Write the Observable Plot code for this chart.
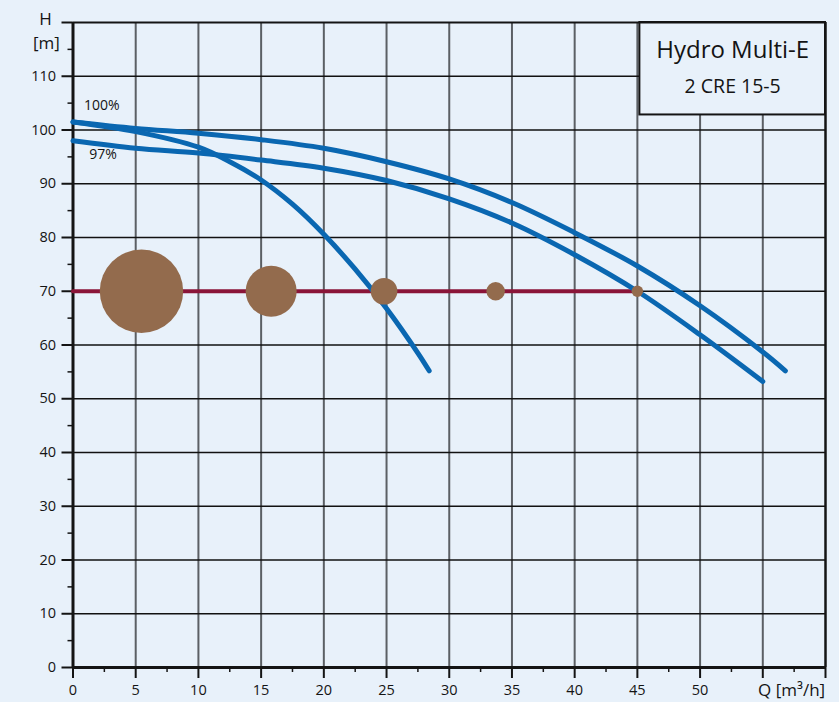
<!DOCTYPE html>
<html><head><meta charset="utf-8">
<script src="https://cdn.jsdelivr.net/npm/d3@7"></script>
<script src="https://cdn.jsdelivr.net/npm/@observablehq/plot@0.6"></script>
<style>
html,body{margin:0;padding:0;background:#e8f1fa;}
#chart svg{display:block;}
</style></head><body><div id="chart"></div>
<script>
// ---- data ----
const curve100Q = [0, 5, 10, 15, 20, 25, 30, 35, 40, 45, 50, 55, 56.8];
const curve100H = [101.5, 100.3, 99.4, 98.2, 96.6, 94.1, 90.9, 86.5, 80.9, 74.7, 67.3, 58.7, 55.2];
const curve97Q = [0, 5, 10, 15, 20, 25, 30, 35, 40, 45, 50, 55];
const curve97H = [98.0, 96.6, 95.7, 94.4, 92.9, 90.6, 87.2, 82.7, 76.8, 70.0, 61.9, 53.2];
const steepQ = [0, 5, 10, 12.5, 15, 17.5, 20, 22.5, 25, 27.5, 28.4];
const steepH = [101.5, 99.7, 96.8, 94.1, 90.7, 86.2, 80.6, 74.1, 66.8, 58.5, 55.2];
const opLineQ = [0, 45];
const opLineH = [70, 70];
const dotQ = [5.46, 15.8, 24.8, 33.7, 45.0];
const dotH = [70, 70, 70, 70, 70];
const dotSize = [100, 37.4, 10.2, 4.9, 1.9];
const curveLabels = ["100%", "97%"];
const curveLabelQ = [2.3, 2.4];
const curveLabelH = [104.5, 95.4];
const titleLines = ["Hydro Multi-E", "2 CRE 15-5"];
const xMajor = [0, 5, 10, 15, 20, 25, 30, 35, 40, 45, 50, 55, 60];
const xMinor = [2.5, 7.5, 12.5, 17.5, 22.5, 27.5, 32.5, 37.5, 42.5, 47.5, 52.5, 57.5];
const xLabels = [0, 5, 10, 15, 20, 25, 30, 35, 40, 45, 50];
const yMajor = [0, 10, 20, 30, 40, 50, 60, 70, 80, 90, 100, 110, 120];
const yMinor = [5, 15, 25, 35, 45, 55, 65, 75, 85, 95, 105, 115];
const yLabels = [0, 10, 20, 30, 40, 50, 60, 70, 80, 90, 100, 110];
const xTitle = "Q [m³/h]";
const yTitle = ["H", "[m]"];

const bg = "#e8f1fa";
const blue = "#0a67b1";
const ink = "#141414";
const font = "'Open Sans', 'Noto Sans', sans-serif";

const pts = (qs, hs) => qs.map((q, i) => ({q, h: hs[i]}));
const c100 = pts(curve100Q, curve100H);
const c97 = pts(curve97Q, curve97H);
const cSteep = pts(steepQ, steepH);
const opLine = pts(opLineQ, opLineH);
const dots = dotQ.map((q, i) => ({q, h: dotH[i], s: dotSize[i]}));
const labels = curveLabels.map((t, i) => ({t, q: curveLabelQ[i], h: curveLabelH[i]}));

const plot = Plot.plot({
  width: 839, height: 702,
  marginLeft: 72.5, marginRight: 14, marginTop: 22, marginBottom: 35,
  x: {domain: [0, 60], axis: null},
  y: {domain: [0, 120], axis: null},
  r: {domain: [0, 100], range: [0, 41.7]},
  style: {background: bg, fontFamily: font, color: ink},
  marks: [
    Plot.ruleX(xMajor.filter(d => d > 0 && d < 60), {stroke: "#5b5f64", strokeWidth: 2}),
    Plot.ruleY(yMajor.filter(d => d > 0 && d < 120), {stroke: "#111", strokeWidth: 1.3}),
    // title box
    Plot.rect([0], {x1: 45.2, x2: 60, y1: 102.8, y2: 120, fill: bg, stroke: ink, strokeWidth: 2}),
    Plot.text([titleLines[0]], {x: 52.6, y: 114.9, text: d => d, fontSize: 24, fill: ink}),
    Plot.text([titleLines[1]], {x: 52.6, y: 108.0, text: d => d, fontSize: 19.5, fill: ink}),
    // frame
    Plot.ruleY([120], {stroke: ink, strokeWidth: 2}),
    Plot.ruleX([60], {stroke: ink, strokeWidth: 2.5}),
    Plot.ruleX([0], {stroke: ink, strokeWidth: 3}),
    Plot.ruleY([0], {stroke: ink, strokeWidth: 3}),
    // ticks
    Plot.axisY(yMajor, {anchor: "left", tickSize: 11, tickFormat: () => "", label: null, stroke: ink, strokeWidth: 2}),
    Plot.axisY(yMinor, {anchor: "left", tickSize: 5, tickFormat: () => "", label: null, stroke: ink, strokeWidth: 1.5}),
    Plot.axisX(xMajor, {anchor: "bottom", tickSize: 11, tickFormat: () => "", label: null, stroke: ink, strokeWidth: 2}),
    Plot.axisX(xMinor, {anchor: "bottom", tickSize: 5, tickFormat: () => "", label: null, stroke: ink, strokeWidth: 1.5}),
    // tick labels
    Plot.text(yLabels, {x: 0, y: d => d, text: d => String(d), dx: -17, textAnchor: "end", fontSize: 14.5, fill: ink}),
    Plot.text(xLabels, {x: d => d, y: 0, text: d => String(d), dy: 23, fontSize: 14.5, fill: ink}),
    Plot.text([yTitle[0]], {x: 0, y: 120, text: d => d, dx: -27.5, dy: -3, fontSize: 17, fill: ink}),
    Plot.text([yTitle[1]], {x: 0, y: 116.1, text: d => d, dx: -26.5, fontSize: 17, fill: ink}),
    Plot.text([xTitle], {x: 57.3, y: 0, text: d => d, dy: 23, fontSize: 17, fill: ink}),
    // operating line
    Plot.line(opLine, {x: "q", y: "h", stroke: "#8a1538", strokeWidth: 4}),
    // pump curves
    Plot.line(c100, {x: "q", y: "h", curve: "catmull-rom", stroke: blue, strokeWidth: 5, strokeLinecap: "round"}),
    Plot.line(c97, {x: "q", y: "h", curve: "catmull-rom", stroke: blue, strokeWidth: 5, strokeLinecap: "round"}),
    Plot.line(cSteep, {x: "q", y: "h", curve: "catmull-rom", stroke: blue, strokeWidth: 5, strokeLinecap: "round"}),
    // dots
    Plot.dot(dots, {x: "q", y: "h", r: "s", fill: "#936b4d", stroke: "none"}),
    // curve labels
    Plot.text(labels, {x: "q", y: "h", text: "t", fontSize: 14, fill: ink})
  ]
});
document.getElementById("chart").appendChild(plot);
</script></body></html>
